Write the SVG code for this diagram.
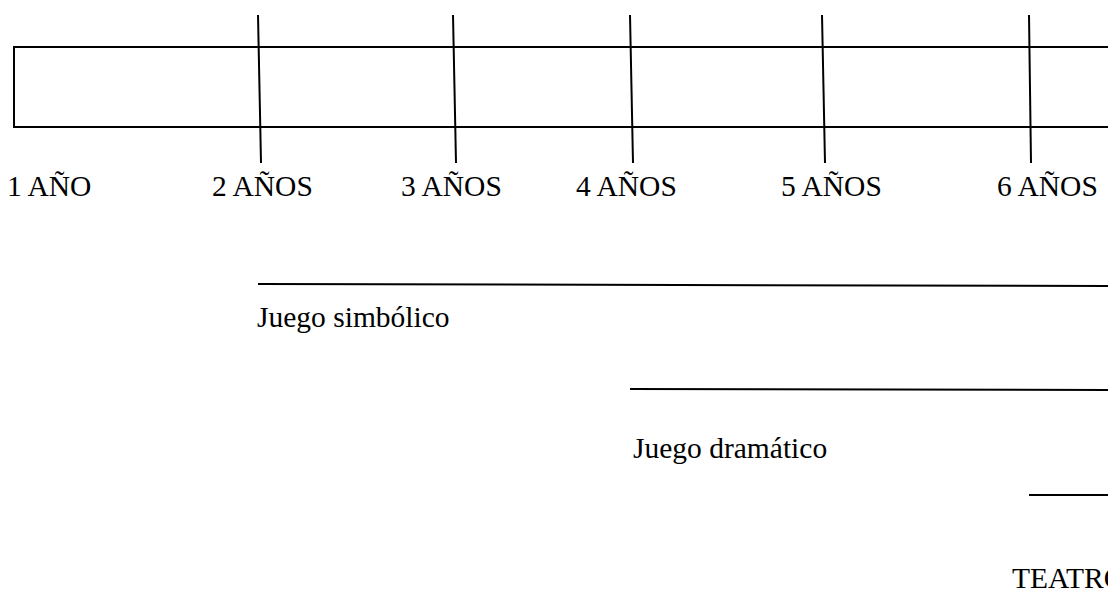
<svg xmlns="http://www.w3.org/2000/svg" width="1108" height="590" viewBox="0 0 1108 590">
<style>
.ln{stroke:#000;stroke-width:2;fill:none}
.t{font-family:"Liberation Serif","Times New Roman",serif;font-size:29.5px;fill:#000}
</style>
<rect width="1108" height="590" fill="#fff"/>
<g id="bar">
<path class="ln" d="M1110,47 H14 V127 H1110"/>
</g>
<g id="connectors">
<line class="ln" x1="258" y1="15" x2="261" y2="163"/>
<line class="ln" x1="453" y1="15" x2="456" y2="163"/>
<line class="ln" x1="630" y1="15" x2="633" y2="163"/>
<line class="ln" x1="822" y1="15" x2="825" y2="163"/>
<line class="ln" x1="1029" y1="15" x2="1031" y2="163"/>
<line class="ln" x1="258" y1="284" x2="1110" y2="286"/>
<line class="ln" x1="630" y1="389" x2="1110" y2="390"/>
<line class="ln" x1="1029" y1="495" x2="1110" y2="495"/>
</g>
<g id="age1"><text class="t" x="7" y="196">1 AÑO</text></g>
<g id="age2"><text class="t" x="212" y="196">2 AÑOS</text></g>
<g id="age3"><text class="t" x="401" y="196">3 AÑOS</text></g>
<g id="age4"><text class="t" x="576" y="196">4 AÑOS</text></g>
<g id="age5"><text class="t" x="781" y="196">5 AÑOS</text></g>
<g id="age6"><text class="t" x="997" y="196">6 AÑOS</text></g>
<g id="simbolico"><text class="t" x="257" y="327">Juego simbólico</text></g>
<g id="dramatico"><text class="t" x="633" y="458">Juego dramático</text></g>
<g id="teatro"><text class="t" x="1012" y="588">TEATRO</text></g>
</svg>
